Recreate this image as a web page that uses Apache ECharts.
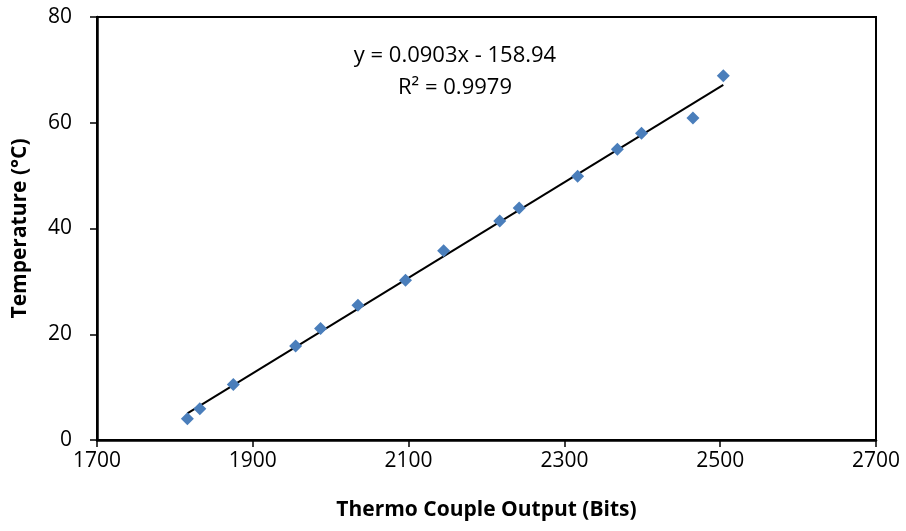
<!DOCTYPE html>
<html>
<head>
<meta charset="utf-8">
<script src="https://cdn.jsdelivr.net/npm/echarts@6/dist/echarts.min.js"></script>
<style>
  html, body { margin: 0; padding: 0; background: #fff; }
  #chart { width: 906px; height: 531px; }
</style>
</head>
<body>
<div id="chart"></div>
<script>
// Thermocouple calibration readings: raw ADC output vs measured temperature
const outputBits = [1816, 1832, 1875, 1955, 1987, 2035, 2096, 2145, 2217, 2242, 2317, 2368, 2399, 2465, 2504];
const temperatureC = [4.0, 5.9, 10.5, 17.8, 21.1, 25.5, 30.2, 35.8, 41.4, 43.9, 49.9, 55.0, 58.0, 60.9, 68.9];

// Linear fit coefficients (y = slope * x + intercept)
const fitSlope = 0.0903;
const fitIntercept = -158.94;
const fitR2 = 0.9979;

const xTicks = [1700, 1900, 2100, 2300, 2500, 2700];
const yTicks = [0, 20, 40, 60, 80];

const xMin = Math.min(...outputBits);
const xMax = Math.max(...outputBits);
const fitLine = [xMin, xMax].map(x => [x, fitSlope * x + fitIntercept]);

const FONT = '"Open Sans", "Liberation Sans", sans-serif';

const chart = echarts.init(document.getElementById('chart'), null, { renderer: 'canvas' });
chart.setOption({
  animation: false,
  backgroundColor: '#ffffff',
  grid: {
    left: 97, right: 30, top: 17, bottom: 91,
    show: true, borderColor: '#000', borderWidth: 2, backgroundColor: 'transparent'
  },
  xAxis: {
    type: 'value',
    min: xTicks[0], max: xTicks[xTicks.length - 1], interval: 200,
    name: 'Thermo Couple Output (Bits)',
    nameLocation: 'middle', nameGap: 60,
    nameTextStyle: { fontFamily: FONT, fontSize: 21, fontWeight: 'bold', color: '#000' },
    axisLine: { show: true, onZero: false, lineStyle: { color: '#000', width: 2.5 } },
    axisTick: { show: true, inside: false, length: 7, lineStyle: { color: '#000', width: 1.5 } },
    axisLabel: { fontFamily: FONT, fontSize: 21, color: '#000', margin: 11, formatter: v => String(v) },
    splitLine: { show: false }
  },
  yAxis: {
    type: 'value',
    min: yTicks[0], max: yTicks[yTicks.length - 1], interval: 20,
    name: 'Temperature (°C)',
    nameLocation: 'middle', nameGap: 66, nameRotate: 90,
    nameTextStyle: { fontFamily: FONT, fontSize: 21, fontWeight: 'bold', color: '#000' },
    axisLine: { show: true, onZero: false, lineStyle: { color: '#000', width: 2.5 } },
    axisTick: { show: true, inside: false, length: 7, lineStyle: { color: '#000', width: 1.5 } },
    axisLabel: { fontFamily: FONT, fontSize: 21, color: '#000', margin: 25, formatter: v => String(v) },
    splitLine: { show: false }
  },
  series: [
    {
      type: 'scatter',
      data: outputBits.map((x, i) => [x, temperatureC[i]]),
      symbol: 'diamond',
      symbolSize: [13, 13],
      itemStyle: { color: '#4a7ebb', opacity: 1 },
      z: 3
    },
    {
      type: 'line',
      data: fitLine,
      symbol: 'none',
      lineStyle: { color: '#000', width: 2 },
      z: 2
    }
  ],
  graphic: [
    {
      type: 'text', x: 455, y: 56,
      style: {
        text: 'y = ' + fitSlope + 'x - ' + Math.abs(fitIntercept),
        fontFamily: FONT, fontSize: 22, fill: '#000', align: 'center', verticalAlign: 'middle'
      }
    },
    {
      type: 'text', x: 455, y: 88,
      style: {
        text: 'R² = ' + fitR2,
        fontFamily: FONT, fontSize: 22, fill: '#000', align: 'center', verticalAlign: 'middle'
      }
    }
  ]
});
</script>
</body>
</html>
